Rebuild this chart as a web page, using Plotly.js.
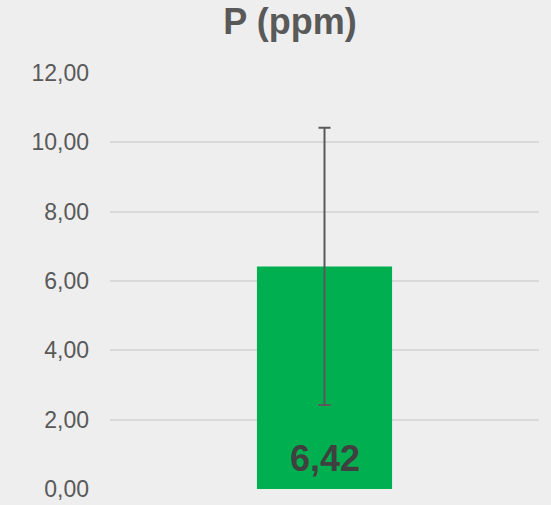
<!DOCTYPE html>
<html>
<head>
<meta charset="utf-8">
<script src="https://cdn.plot.ly/plotly-3.0.1.min.js"></script>
<style>html,body{margin:0;padding:0;background:#EEEEEE;}</style>
</head>
<body>
<div id="chart" style="width:551px;height:505px;"></div>
<script>
const categories = ["P"];
const values = [6.42];
const errors = [4.0];
const chartTitle = "P (ppm)";
const tickVals = [0, 2, 4, 6, 8, 10, 12];

const fmt = v => v.toFixed(2).replace('.', ',');

const trace = {
  type: 'bar',
  x: categories,
  y: values,
  width: 0.315,
  marker: {color: '#00B050'},
  error_y: {type: 'data', array: errors, visible: true, color: '#595959', thickness: 2, width: 6},
  hoverinfo: 'none'
};

const layout = {
  width: 551, height: 505,
  paper_bgcolor: '#EEEEEE', plot_bgcolor: '#EEEEEE',
  separators: ',.',
  margin: {l: 110, r: 12, t: 73, b: 16},
  showlegend: false,
  title: {
    text: '<b>' + chartTitle + '</b>',
    font: {family: 'Liberation Sans, Arial, sans-serif', size: 36, color: '#595959'},
    x: 290/551, xref: 'container', xanchor: 'center',
    y: 1 - 9/505, yref: 'container', yanchor: 'top'
  },
  xaxis: {
    type: 'category', range: [-0.5, 0.5],
    showticklabels: false, showgrid: false, zeroline: false, showline: false, ticks: ''
  },
  yaxis: {
    range: [0, 12], tickvals: tickVals, tickformat: '.2f',
    showgrid: true, gridcolor: '#D9D9D9', gridwidth: 2,
    zeroline: false, showline: false, ticks: '',
    ticklabelstandoff: 20,
    tickfont: {family: 'Liberation Sans, Arial, sans-serif', size: 23, color: '#595959'}
  },
  annotations: categories.map((c, i) => ({
    x: c, y: 0, xref: 'x', yref: 'y',
    text: '<b>' + fmt(values[i]) + '</b>',
    showarrow: false, xanchor: 'center', yanchor: 'bottom', yshift: 8,
    font: {family: 'Liberation Sans, Arial, sans-serif', size: 36, color: '#404040'}
  }))
};

Plotly.newPlot('chart', [trace], layout, {displayModeBar: false, staticPlot: true});
</script>
</body>
</html>
